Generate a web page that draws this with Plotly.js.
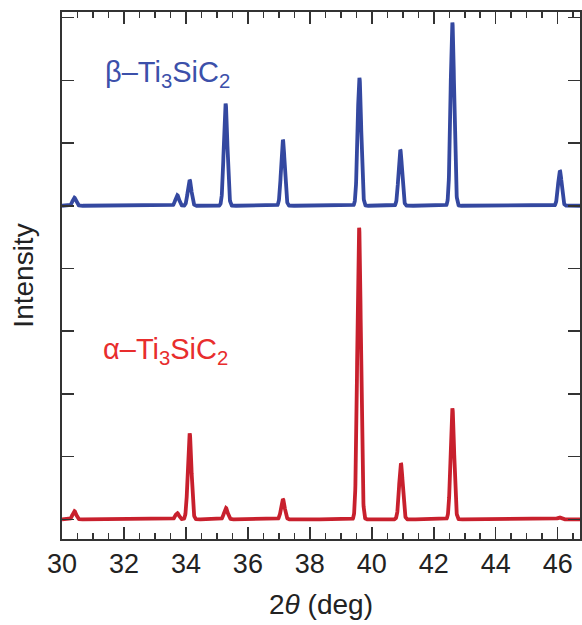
<!DOCTYPE html>
<html>
<head>
<meta charset="utf-8">
<script src="https://cdn.plot.ly/plotly-3.0.1.min.js"></script>
<style>html,body{margin:0;padding:0;background:#fff;}#chart{width:582px;height:625px;}</style>
</head>
<body>
<div id="chart"></div>
<script>
// Peak positions (2θ, deg) and heights (tick units above each baseline)
const betaPos    = [30.40, 33.72, 34.12, 35.28, 37.13, 39.60, 40.92, 42.60, 46.07];
const betaHeight = [0.13, 0.17, 0.41, 1.63, 1.05, 2.04, 0.89, 2.92, 0.56];
const alphaPos    = [30.40, 33.72, 34.12, 35.29, 37.13, 39.59, 40.94, 42.60, 46.05];
const alphaHeight = [0.13, 0.10, 1.37, 0.18, 0.32, 4.65, 0.89, 1.77, 0.03];
const betaOffset = 5;   // baseline of the β pattern
const alphaOffset = 0;  // baseline of the α pattern
const peakWidth = 0.058; // profile width (deg)
const xRange = [30, 46.72];
const xTickVals = [30, 32, 34, 36, 38, 40, 42, 44, 46];
const labels = ['β–Ti<sub>3</sub>SiC<sub>2</sub>', 'α–Ti<sub>3</sub>SiC<sub>2</sub>'];

function profile(pos, hts, offset) {
  const xs = [], ys = [];
  for (let i = 0; i <= 3344; i++) {
    const x = xRange[0] + i * 0.005;
    let y = offset;
    for (let k = 0; k < pos.length; k++) {
      const d = (x - pos[k]) / peakWidth;
      y += hts[k] * Math.exp(-0.5 * d * d);
    }
    xs.push(x); ys.push(y);
  }
  return {x: xs, y: ys};
}
const b = profile(betaPos, betaHeight, betaOffset);
const a = profile(alphaPos, alphaHeight, alphaOffset);

const traces = [
  {x: b.x, y: b.y, mode: 'lines', line: {color: 'rgb(52,72,160)', width: 3.8}, hoverinfo: 'skip'},
  {x: a.x, y: a.y, mode: 'lines', line: {color: 'rgb(200,32,45)', width: 3.8}, hoverinfo: 'skip'}
];

const font = 'Liberation Sans, Arial, Helvetica, sans-serif';
const layout = {
  width: 582, height: 625,
  margin: {l: 62, r: 2, t: 12, b: 86},
  paper_bgcolor: '#fff', plot_bgcolor: '#fff',
  showlegend: false,
  font: {family: font, color: '#222'},
  xaxis: {
    range: xRange, tickvals: xTickVals, ticktext: xTickVals.map(String),
    ticks: 'inside', ticklen: 12, tickwidth: 1.5, tickcolor: '#333',
    minor: {dtick: 0.5, tick0: 30, ticks: 'inside', ticklen: 6, tickwidth: 1.5, tickcolor: '#333'},
    showline: true, linecolor: '#333', linewidth: 2, mirror: 'ticks',
    showgrid: false, zeroline: false,
    tickfont: {size: 27, family: font, color: '#222'},
    title: {text: '2<i>θ</i> (deg)', font: {size: 28, family: font, color: '#222'}, standoff: 16}
  },
  yaxis: {
    range: [-0.314, 8.09], tick0: 0, dtick: 1,
    ticks: 'inside', ticklen: 12, tickwidth: 1.5, tickcolor: '#333',
    showticklabels: false,
    showline: true, linecolor: '#333', linewidth: 2, mirror: 'ticks',
    showgrid: false, zeroline: false,
    title: {text: 'Intensity', font: {size: 28, family: font, color: '#222'}, standoff: 18}
  },
  annotations: [
    {x: 31.33, y: 7.1, xref: 'x', yref: 'y', xanchor: 'left', yanchor: 'middle', showarrow: false,
     text: labels[0], font: {size: 29, family: font, color: 'rgb(60,80,170)'}},
    {x: 31.27, y: 2.68, xref: 'x', yref: 'y', xanchor: 'left', yanchor: 'middle', showarrow: false,
     text: labels[1], font: {size: 29, family: font, color: 'rgb(232,45,45)'}}
  ]
};
Plotly.newPlot('chart', traces, layout, {staticPlot: true, displayModeBar: false});
</script>
</body>
</html>
